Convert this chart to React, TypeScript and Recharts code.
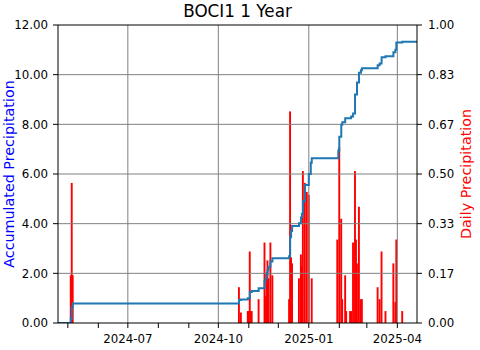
import React from 'react';
import { ComposedChart, Bar, Line, XAxis, YAxis, ReferenceLine } from 'recharts';

const toT = (s: string) => Date.parse(s + 'T00:00:00Z');

const xStart = '2024-04-21';
const xEnd = '2025-04-21';

const dailyDates = [
  '2024-05-04', '2024-05-05', '2024-05-06',
  '2024-10-22', '2024-10-24', '2024-10-31', '2024-11-01', '2024-11-02', '2024-11-03', '2024-11-04',
  '2024-11-11', '2024-11-17', '2024-11-18', '2024-11-19', '2024-11-20', '2024-11-21', '2024-11-23', '2024-11-25',
  '2024-12-12', '2024-12-13', '2024-12-14', '2024-12-15', '2024-12-22', '2024-12-24', '2024-12-25',
  '2024-12-26', '2024-12-28', '2024-12-30', '2025-01-01', '2025-01-04',
  '2025-01-30', '2025-02-01', '2025-02-03', '2025-02-04', '2025-02-07', '2025-02-08', '2025-02-12', '2025-02-13',
  '2025-02-15', '2025-02-17', '2025-02-18', '2025-02-19', '2025-02-21', '2025-02-23', '2025-02-24',
  '2025-03-12', '2025-03-14', '2025-03-16', '2025-03-20', '2025-03-28', '2025-03-30', '2025-03-31', '2025-04-06',
];
const dailyValues = [
  0.16, 0.47, 0.16,
  0.12, 0.035, 0.04, 0.04, 0.24, 0.04, 0.04,
  0.08, 0.27, 0.09, 0.17, 0.21, 0.15, 0.27, 0.16,
  0.08, 0.71, 0.22, 0.2, 0.15, 0.23, 0.19,
  0.51, 0.47, 0.44, 0.43, 0.15,
  0.28, 0.59, 0.35, 0.08, 0.16, 0.04, 0.04, 0.04,
  0.27, 0.51, 0.28, 0.2, 0.39, 0.08, 0.08,
  0.12, 0.08, 0.24, 0.04, 0.2, 0.07, 0.28, 0.04,
];

const accumDates = [
  '2024-04-21', '2024-05-04', '2024-05-05', '2024-05-06',
  '2024-10-22', '2024-10-24', '2024-10-31', '2024-11-02', '2024-11-04', '2024-11-11',
  '2024-11-17', '2024-11-18', '2024-11-19', '2024-11-20', '2024-11-21', '2024-11-23', '2024-11-25',
  '2024-12-12', '2024-12-13', '2024-12-14', '2024-12-15', '2024-12-22', '2024-12-24', '2024-12-25',
  '2024-12-26', '2024-12-28', '2025-01-01', '2025-01-03', '2025-01-04',
  '2025-01-31', '2025-02-01', '2025-02-03', '2025-02-04', '2025-02-07', '2025-02-13', '2025-02-15',
  '2025-02-17', '2025-02-19', '2025-02-21', '2025-02-23', '2025-02-24',
  '2025-03-12', '2025-03-14', '2025-03-16', '2025-03-20', '2025-03-28', '2025-03-30', '2025-03-31',
  '2025-04-06', '2025-04-21',
];
const accumValues = [
  0, 0.16, 0.63, 0.79,
  0.93, 0.95, 1.0, 1.25, 1.29, 1.4,
  1.68, 1.78, 1.95, 2.12, 2.27, 2.48, 2.61,
  2.69, 3.45, 3.7, 3.91, 4.02, 4.25, 4.4,
  4.9, 5.56, 6.0, 6.45, 6.63,
  6.95, 7.5, 7.98, 8.08, 8.25, 8.32, 8.44,
  9.2, 9.68, 10.08, 10.18, 10.26,
  10.38, 10.45, 10.7, 10.74, 10.9, 11.0, 11.3,
  11.33, 11.33,
];

const monthTicks = [
  '2024-05-01', '2024-06-01', '2024-07-01', '2024-08-01', '2024-09-01', '2024-10-01',
  '2024-11-01', '2024-12-01', '2025-01-01', '2025-02-01', '2025-03-01', '2025-04-01',
];
const monthTickLabels = ['', '', '2024-07', '', '', '2024-10', '', '', '2025-01', '', '', '2025-04'];
const leftTicks = [0, 2, 4, 6, 8, 10, 12];
const rightTicks = [0, 0.16667, 0.33333, 0.5, 0.66667, 0.83333, 1];

const barData = dailyDates.map((d, i) => ({ t: toT(d), p: dailyValues[i] }));
const lineData = accumDates.map((d, i) => ({ t: toT(d), acc: accumValues[i] }));
const tickTimes = monthTicks.map(toT);
const gridTimes = tickTimes.filter((_, i) => monthTickLabels[i] !== '');

const FONT = 'DejaVu Sans';
const tickStyle = { fontSize: 11.8, fill: '#000', fontFamily: FONT };

const BAR_W = 1.9;
const DayBar = (props: any) => {
  const { x, y, width, height } = props;
  if (!height || height <= 0) return null;
  const cx = x + width / 2;
  return <rect x={cx - BAR_W / 2} y={y} width={BAR_W} height={height} fill="#ff0000" />;
};

export default function App() {
  return (
    <div style={{ position: 'absolute', left: 0, top: 0, width: 480, height: 350, background: '#fff' }}>
      <ComposedChart
        width={480}
        height={350}
        data={barData}
        margin={{ top: 25, right: 0, bottom: 0, left: 0 }}
      >
        <XAxis
          dataKey="t"
          type="number"
          domain={[toT(xStart), toT(xEnd)]}
          allowDataOverflow
          ticks={tickTimes}
          interval={0}
          tickFormatter={(v: number) => {
            const i = tickTimes.indexOf(v);
            return i >= 0 ? monthTickLabels[i] : '';
          }}
          height={27}
          tickSize={5}
          tickMargin={6.5}
          tick={tickStyle}
          stroke="#000"
          tickLine={{ stroke: '#000' }}
          axisLine={{ stroke: '#000' }}
        />
        <YAxis
          yAxisId="left"
          domain={[0, 12]}
          ticks={leftTicks}
          interval={0}
          allowDataOverflow
          width={58}
          tickSize={5}
          tickMargin={5}
          tick={tickStyle}
          tickFormatter={(v: number) => v.toFixed(2)}
          tickLine={{ stroke: '#000' }}
          axisLine={{ stroke: '#000' }}
          label={{
            content: (props: any) => {
              const vb = props.viewBox || { x: 0, y: 25, width: 58, height: 298 };
              const cx = vb.x + 13.5;
              const cy = vb.y + vb.height / 2;
              return (
                <text
                  x={cx}
                  y={cy}
                  transform={`rotate(-90 ${cx} ${cy})`}
                  textAnchor="middle"
                  fill="#0000ff"
                  fontSize={14.3}
                  fontFamily={FONT}
                >
                  Accumulated Precipitation
                </text>
              );
            },
          }}
        />
        <YAxis
          yAxisId="right"
          orientation="right"
          domain={[0, 1]}
          ticks={rightTicks}
          interval={0}
          allowDataOverflow
          width={63}
          tickSize={5}
          tickMargin={6}
          tick={tickStyle}
          tickFormatter={(v: number) => v.toFixed(2)}
          tickLine={{ stroke: '#000' }}
          axisLine={{ stroke: '#000' }}
          label={{
            content: (props: any) => {
              const vb = props.viewBox || { x: 417, y: 25, width: 63, height: 298 };
              const cx = vb.x + 54;
              const cy = vb.y + vb.height / 2;
              return (
                <text
                  x={cx}
                  y={cy}
                  transform={`rotate(-90 ${cx} ${cy})`}
                  textAnchor="middle"
                  fill="#ff0000"
                  fontSize={14.3}
                  fontFamily={FONT}
                >
                  Daily Precipitation
                </text>
              );
            },
          }}
        />
        <Bar
          yAxisId="right"
          dataKey="p"
          fill="#ff0000"
          barSize={2}
          shape={DayBar}
          isAnimationActive={false}
        />
        {leftTicks.filter((v) => v > 0 && v < 12).map((v) => (
          <ReferenceLine key={'h' + v} yAxisId="left" y={v} stroke="#808080" strokeWidth={1} />
        ))}
        {gridTimes.map((t) => (
          <ReferenceLine key={'v' + t} yAxisId="left" x={t} stroke="#808080" strokeWidth={1} />
        ))}
        <ReferenceLine
          yAxisId="left"
          y={12}
          stroke="#000"
          strokeWidth={1}
          label={{
            content: (props: any) => {
              const vb = props.viewBox || { x: 58, y: 25, width: 359 };
              return (
                <text
                  x={vb.x + vb.width / 2}
                  y={vb.y - 8.3}
                  textAnchor="middle"
                  fill="#000"
                  fontSize={16.8}
                  fontFamily={FONT}
                >
                  BOCI1 1 Year
                </text>
              );
            },
          }}
        />
        <Line
          yAxisId="left"
          data={lineData}
          dataKey="acc"
          type="stepAfter"
          stroke="#1f77b4"
          strokeWidth={2}
          dot={false}
          activeDot={false}
          isAnimationActive={false}
        />
      </ComposedChart>
    </div>
  );
}
